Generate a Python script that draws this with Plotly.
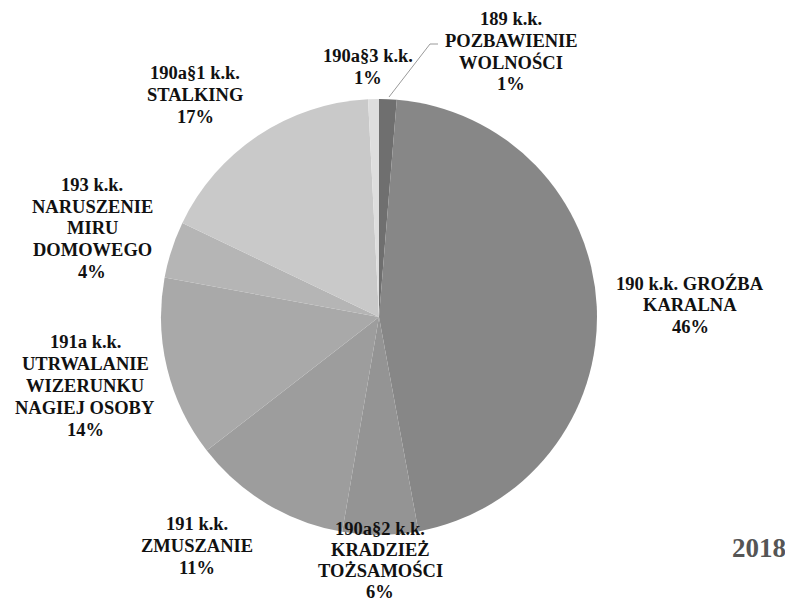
import plotly.graph_objects as go

# page body has an 8px margin, so the figure is made smaller and coordinates shifted
OFF = 8
W, H = 793 - 2 * OFF, 607 - 2 * OFF

# Data (clockwise from 12 o'clock)
labels = ["189 k.k.<br>POZBAWIENIE<br>WOLNOŚCI",
          "190 k.k. GROŹBA<br>KARALNA",
          "190a§2 k.k.<br>KRADZIEŻ<br>TOŻSAMOŚCI",
          "191 k.k.<br>ZMUSZANIE",
          "191a k.k.<br>UTRWALANIE<br>WIZERUNKU<br>NAGIEJ OSOBY",
          "193 k.k.<br>NARUSZENIE<br>MIRU<br>DOMOWEGO",
          "190a§1 k.k.<br>STALKING",
          "190a§3 k.k."]
values = [1.3, 45.8, 5.6, 11.8, 13.4, 4.2, 17.1, 0.8]
percent_labels = ["1%", "46%", "6%", "11%", "14%", "4%", "17%", "1%"]
year = "2018"

colors = ["#6f6f6f", "#878787", "#949494", "#9d9d9d", "#a9a9a9", "#b5b5b5", "#c9c9c9", "#dedede"]

# label block centres in window pixels and line spacing (layout)
label_pos = [(511, 51.5), (690, 305), (380, 560), (197, 546), (85, 386),
             (92, 228.5), (195, 95), (368, 67)]
line_gap = [21.8, 21.8, 21.0, 21.8, 21.8, 21.8, 21.8, 21.8]


def px(x):
    return (x - OFF) / W


def py(y):
    return 1 - (y - OFF) / H


cx, cy, r = 379, 317, 218

fig = go.Figure(go.Pie(
    labels=[l.replace("<br>", " ") for l in labels], values=values, sort=False,
    direction="clockwise", rotation=0,
    marker=dict(colors=colors, line=dict(width=0)),
    textinfo="none", hoverinfo="label+percent", showlegend=False,
    domain=dict(x=[px(cx - r), px(cx + r)], y=[py(cy + r), py(cy - r)]),
))

font = dict(family="Liberation Serif", size=18.5, color="#111111", weight="bold")
for lab, pct, (x, y), gap in zip(labels, percent_labels, label_pos, line_gap):
    lines = lab.split("<br>") + [pct]
    n = len(lines)
    for i, line in enumerate(lines):
        yy = y + (i - (n - 1) / 2) * gap
        fig.add_annotation(text=line, x=px(x), y=py(yy),
                           xref="paper", yref="paper", showarrow=False,
                           xanchor="center", yanchor="middle", align="center", font=font)

fig.add_annotation(text=year, x=px(788), y=py(548), xref="paper", yref="paper",
                   showarrow=False, xanchor="right", yanchor="middle",
                   font=dict(family="Liberation Serif", size=27, color="#555555", weight="bold"))

# leader line for the 189 k.k. label
fig.add_shape(type="path", xref="paper", yref="paper",
              path=f"M {px(389)},{py(97)} L {px(430)},{py(44)} L {px(438)},{py(44)}",
              line=dict(color="#9a9a9a", width=1))

fig.update_layout(width=W, height=H, margin=dict(l=0, r=0, t=0, b=0),
                  paper_bgcolor="white", plot_bgcolor="white")
fig.write_html("out.html")
